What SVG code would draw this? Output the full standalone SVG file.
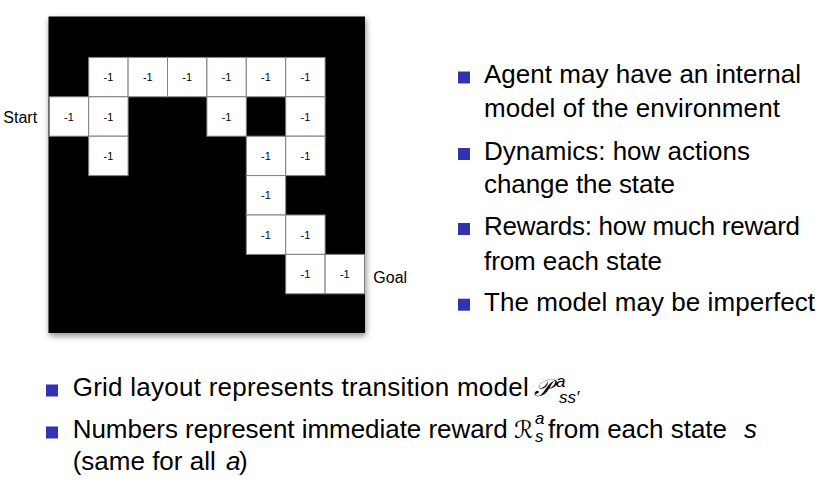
<svg xmlns="http://www.w3.org/2000/svg" width="825" height="487" viewBox="0 0 825 487">
<style>
.cell{fill:#fff;stroke:#808080;stroke-width:1}
.num{font-family:"Liberation Sans",Arial,sans-serif;font-size:11px;fill:#000;text-anchor:middle}
.lbl{font-family:"Liberation Sans",Arial,sans-serif;font-size:16px;fill:#000}
.txt{font-family:"Liberation Sans",Arial,sans-serif;font-size:26px;fill:#000}
.it{font-style:italic}
.sc{font-size:17px;font-style:italic}
.cal{font-family:"DejaVu Sans","DejaVu Serif",serif;font-size:24px;font-style:italic}
.bul{fill:#3333b2}
</style>
<defs>
<filter id="sh" x="-10%" y="-10%" width="120%" height="120%">
<feDropShadow dx="1" dy="3" stdDeviation="3" flood-color="#000" flood-opacity="0.45"/>
</filter>
</defs>
<g id="grid">
<rect x="48.5" y="16.5" width="316.5" height="316.5" fill="#000" filter="url(#sh)"/>
</g>
<g id="cells">
<g id="c1-1"><rect class="cell" x="88.7" y="57.4" width="39.4" height="39.4"/><text class="num" x="108.4" y="81.1">-1</text></g>
<g id="c2-1"><rect class="cell" x="128.1" y="57.4" width="39.4" height="39.4"/><text class="num" x="147.8" y="81.1">-1</text></g>
<g id="c3-1"><rect class="cell" x="167.5" y="57.4" width="39.4" height="39.4"/><text class="num" x="187.2" y="81.1">-1</text></g>
<g id="c4-1"><rect class="cell" x="206.9" y="57.4" width="39.4" height="39.4"/><text class="num" x="226.6" y="81.1">-1</text></g>
<g id="c5-1"><rect class="cell" x="246.3" y="57.4" width="39.4" height="39.4"/><text class="num" x="266" y="81.1">-1</text></g>
<g id="c6-1"><rect class="cell" x="285.7" y="57.4" width="39.4" height="39.4"/><text class="num" x="305.4" y="81.1">-1</text></g>
<g id="c0-2"><rect class="cell" x="49.3" y="96.8" width="39.4" height="39.4"/><text class="num" x="69" y="120.5">-1</text></g>
<g id="c1-2"><rect class="cell" x="88.7" y="96.8" width="39.4" height="39.4"/><text class="num" x="108.4" y="120.5">-1</text></g>
<g id="c4-2"><rect class="cell" x="206.9" y="96.8" width="39.4" height="39.4"/><text class="num" x="226.6" y="120.5">-1</text></g>
<g id="c6-2"><rect class="cell" x="285.7" y="96.8" width="39.4" height="39.4"/><text class="num" x="305.4" y="120.5">-1</text></g>
<g id="c1-3"><rect class="cell" x="88.7" y="136.2" width="39.4" height="39.4"/><text class="num" x="108.4" y="159.9">-1</text></g>
<g id="c5-3"><rect class="cell" x="246.3" y="136.2" width="39.4" height="39.4"/><text class="num" x="266" y="159.9">-1</text></g>
<g id="c6-3"><rect class="cell" x="285.7" y="136.2" width="39.4" height="39.4"/><text class="num" x="305.4" y="159.9">-1</text></g>
<g id="c5-4"><rect class="cell" x="246.3" y="175.6" width="39.4" height="39.4"/><text class="num" x="266" y="199.3">-1</text></g>
<g id="c5-5"><rect class="cell" x="246.3" y="215" width="39.4" height="39.4"/><text class="num" x="266" y="238.7">-1</text></g>
<g id="c6-5"><rect class="cell" x="285.7" y="215" width="39.4" height="39.4"/><text class="num" x="305.4" y="238.7">-1</text></g>
<g id="c6-6"><rect class="cell" x="285.7" y="254.4" width="39.4" height="39.4"/><text class="num" x="305.4" y="278.1">-1</text></g>
<g id="c7-6"><rect class="cell" x="325.1" y="254.4" width="39.4" height="39.4"/><text class="num" x="344.8" y="278.1">-1</text></g>
</g>
<g id="labels">
<text class="lbl" x="3.3" y="122.7">Start</text>
<text class="lbl" x="373.3" y="282.7">Goal</text>
</g>
<g id="right-bullets">
<rect class="bul" x="458" y="71.5" width="12" height="12"/>
<text class="txt" x="484" y="83.3" textLength="317" lengthAdjust="spacing">Agent may have an internal</text>
<text class="txt" x="484" y="116.7" textLength="296" lengthAdjust="spacing">model of the environment</text>
<rect class="bul" x="458" y="148" width="12" height="12"/>
<text class="txt" x="484" y="160" textLength="266" lengthAdjust="spacing">Dynamics: how actions</text>
<text class="txt" x="484" y="193.3" textLength="191" lengthAdjust="spacing">change the state</text>
<rect class="bul" x="458" y="223" width="12" height="12"/>
<text class="txt" x="484" y="235" textLength="316" lengthAdjust="spacing">Rewards: how much reward</text>
<text class="txt" x="484" y="270" textLength="178" lengthAdjust="spacing">from each state</text>
<rect class="bul" x="458" y="298.7" width="12" height="12"/>
<text class="txt" x="484" y="310.7" textLength="331" lengthAdjust="spacing">The model may be imperfect</text>
</g>
<g id="bottom-bullets">
<rect class="bul" x="46" y="384.5" width="12" height="12"/>
<text class="txt" x="72.7" y="396" textLength="456" lengthAdjust="spacing">Grid layout represents transition model</text>
<text class="txt cal" x="534" y="396">𝒫</text>
<text class="txt sc" x="556" y="387">a</text>
<text class="txt sc" x="559" y="403.3">ss′</text>
<rect class="bul" x="46" y="426.5" width="12" height="12"/>
<text class="txt" x="72.7" y="438" textLength="435" lengthAdjust="spacing">Numbers represent immediate reward</text>
<text class="txt cal" x="514" y="438">ℛ</text>
<text class="txt sc" x="535" y="424">a</text>
<text class="txt sc" x="535" y="441.7">s</text>
<text class="txt" x="548" y="438" textLength="179" lengthAdjust="spacing">from each state</text>
<text class="txt it" x="744" y="438">s</text>
<text class="txt" x="72.7" y="470">(same for all <tspan class="it" x="226">a</tspan><tspan x="239">)</tspan></text>
</g>
</svg>
